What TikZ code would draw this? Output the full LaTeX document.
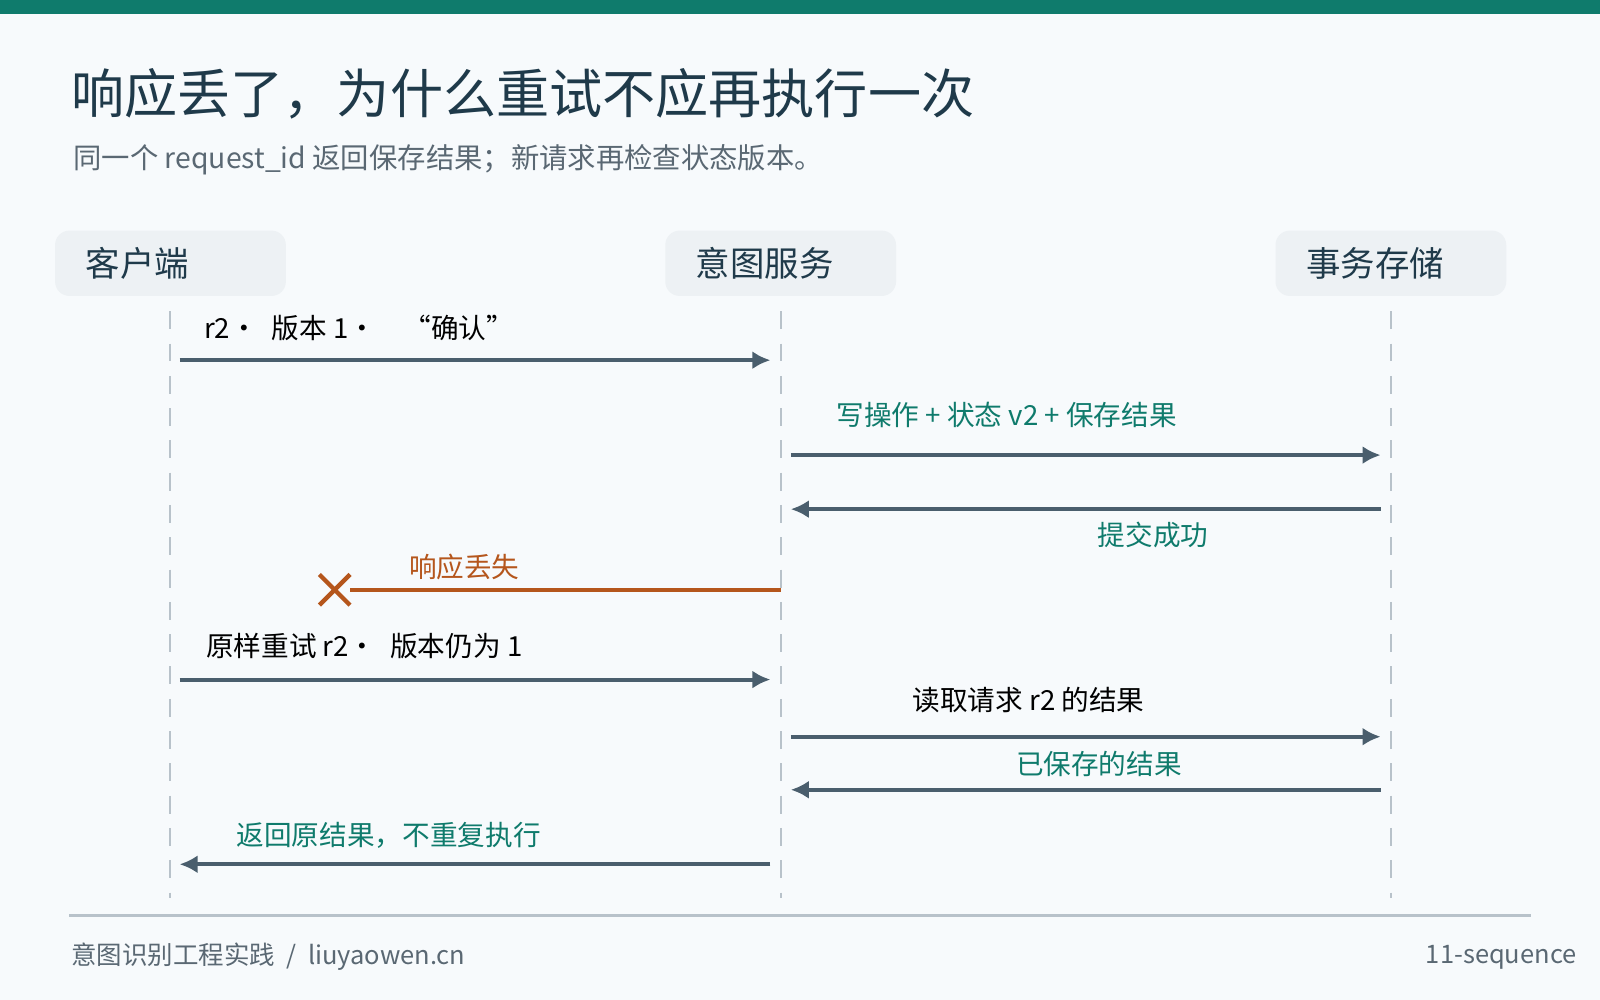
\documentclass[tikz,border=0pt]{standalone}
\usepackage{fontspec}
\setmainfont{Noto Sans CJK SC}
\usetikzlibrary{positioning,arrows.meta,calc}
\definecolor{bgc}{HTML}{F7FAFC}
\definecolor{barc}{HTML}{0F7B6C}
\definecolor{titlec}{HTML}{1F3A4A}
\definecolor{subc}{HTML}{5A6873}
\definecolor{headc}{HTML}{EDF1F4}
\definecolor{arrc}{HTML}{4A5E6D}
\definecolor{lostc}{HTML}{B5561C}
\definecolor{lifec}{HTML}{B8C2CA}
\begin{document}
\begin{tikzpicture}[x=0.01cm,y=-0.01cm,inner sep=0pt,outer sep=0pt,
actor/.style={fill=headc,rounded corners=4pt,minimum width=2.26cm,minimum height=0.64cm,text=titlec,font=\fontsize{9.6}{12}\selectfont,anchor=north west,text width=1.66cm,align=left},
life/.style={lifec,dash pattern=on 5pt off 4pt,line width=0.6pt},
msg/.style={arrc,line width=1.1pt,-{Latex[length=5pt,width=5pt]}},
lbl/.style={font=\fontsize{7.7}{10}\selectfont,text=black},
tlbl/.style={lbl,text=barc}]
\fill[bgc] (0,0) rectangle (1568,980);
\fill[barc] (0,0) rectangle (1568,14);
\node[anchor=west,text=titlec,font=\fontsize{14.8}{18}\selectfont] (title) at (70,92) {响应丢了，为什么重试不应再执行一次};
\node[anchor=west,text=subc,font=\fontsize{7.9}{10}\selectfont] (sub) at (72,157) {同一个 request\_id 返回保存结果；新请求再检查状态版本。};
% participants
\node[actor] (cli) at (54,226) {客户端};
\node[actor] (svc) at (652,226) {意图服务};
\node[actor] (sto) at (1250,226) {事务存储};
\draw[life] (167,305) -- (167,880);
\draw[life] (765,305) -- (765,880);
\draw[life] (1363,305) -- (1363,880);
% messages
\coordinate (a1) at (176,353); \coordinate (b1) at (755,353);
\draw[msg] (a1) -- (b1);
\node[lbl,anchor=west] (m1) at (200,321) {r2·\enspace 版本 1·\quad “确认”};
\coordinate (a2) at (775,446); \coordinate (b2) at (1353,446);
\draw[msg] (a2) -- (b2);
\node[tlbl,anchor=west] (m2) at (820,407) {写操作 + 状态 v2 + 保存结果};
\coordinate (a3) at (1353,499); \coordinate (b3) at (775,499);
\draw[msg] (a3) -- (b3);
\node[tlbl] (m3) at (1130,524) {提交成功};
\coordinate (a4) at (765,578); \coordinate (x4) at (328,578);
\draw[lostc,line width=1.1pt] (a4) -- (343,578);
\draw[lostc,line width=1.2pt] ($(x4)+(-15,-15)$) -- ($(x4)+(15,15)$) ($(x4)+(-15,15)$) -- ($(x4)+(15,-15)$);
\node[lbl,text=lostc] (m4) at (455,556) {响应丢失};
\coordinate (a5) at (176,666); \coordinate (b5) at (755,666);
\draw[msg] (a5) -- (b5);
\node[lbl,anchor=west] (m5) at (202,633) {原样重试 r2·\enspace 版本仍为 1};
\coordinate (a6) at (775,722); \coordinate (b6) at (1353,722);
\draw[msg] (a6) -- (b6);
\node[lbl] (m6) at (1008,686) {读取请求 r2 的结果};
\coordinate (a7) at (1353,774); \coordinate (b7) at (775,774);
\draw[msg] (a7) -- (b7);
\node[tlbl] (m7) at (1077,749) {已保存的结果};
\coordinate (a8) at (755,847); \coordinate (b8) at (176,847);
\draw[msg] (a8) -- (b8);
\node[tlbl,anchor=west] (m8) at (232,819) {返回原结果，不重复执行};
% footer
\draw[lifec,line width=0.8pt] (68,897) -- (1500,897);
\node[anchor=west,text=subc,font=\fontsize{7.1}{9}\selectfont] (foot) at (70,938) {意图识别工程实践 \ / \ liuyaowen.cn};
\node[anchor=east,text=subc,font=\fontsize{7.1}{9}\selectfont] (page) at (1545,938) {11-sequence};
\end{tikzpicture}
\end{document}
